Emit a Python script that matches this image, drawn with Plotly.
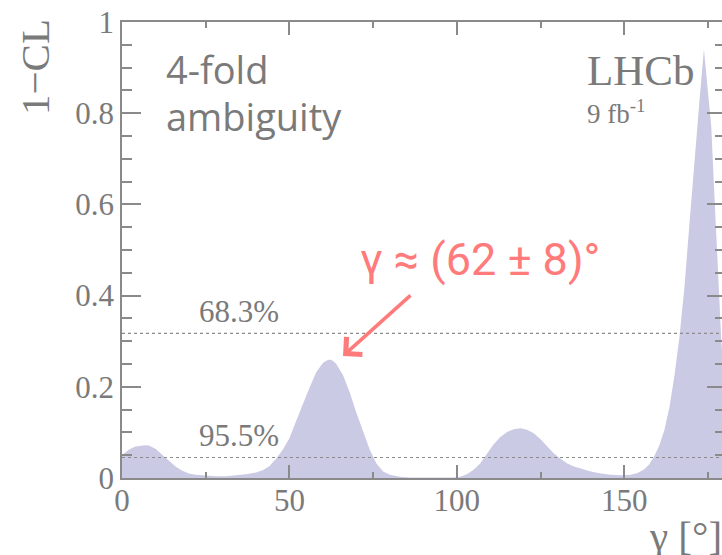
import plotly.graph_objects as go

# ---------------- data ----------------
gamma_deg = [0, 2, 4, 6, 7, 8, 10, 12, 14, 16, 18, 20, 22, 25, 28, 31, 34, 37, 40, 42,
             44, 46, 48, 50, 52, 54, 56, 58, 60, 61, 62, 63, 64, 66, 68, 70, 72, 74, 76, 78,
             80, 83, 86, 90, 95, 99, 101, 103, 105, 107, 109, 111, 113, 115, 117, 119, 121,
             123, 125, 127, 129, 131, 133, 135, 137, 140, 143, 146, 149, 152, 154, 156,
             157.5, 159, 160.5, 162, 163.5, 165, 166.5, 168, 169.5, 171, 172.5, 173.8,
             175, 176, 177, 178, 179, 180]
one_minus_cl = [0.050, 0.062, 0.069, 0.072, 0.072, 0.071, 0.064, 0.051, 0.037, 0.025,
                0.016, 0.010, 0.007, 0.005, 0.004, 0.004, 0.006, 0.008, 0.012, 0.017,
                0.026, 0.042, 0.062, 0.087, 0.125, 0.163, 0.198, 0.232, 0.252, 0.257,
                0.260, 0.257, 0.250, 0.226, 0.188, 0.143, 0.101, 0.062, 0.032, 0.014,
                0.007, 0.003, 0.001, 0.0005, 0.0005, 0.001, 0.003, 0.008, 0.018, 0.032,
                0.053, 0.074, 0.090, 0.101, 0.107, 0.109, 0.106, 0.098, 0.085, 0.069,
                0.054, 0.042, 0.032, 0.025, 0.020, 0.014, 0.010, 0.007, 0.006, 0.007,
                0.011, 0.019, 0.030, 0.048, 0.072, 0.105, 0.155, 0.225, 0.31, 0.42,
                0.56, 0.70, 0.83, 0.94, 0.85, 0.77, 0.61, 0.45, 0.30, 0.20]
cl_levels = [0.317, 0.045]
cl_labels = ["68.3%", "95.5%"]
cl_label_x = 35
x_major = [0, 50, 100, 150]
y_major = [0, 0.2, 0.4, 0.6, 0.8, 1]

# ---------------- style ----------------
W, H = 722, 555
L, R, T, B = 122, 0, 22, 77
PW, PH = W - L - R, H - T - B
FILL = "rgb(202,202,228)"
AX = "#8a8a8a"
TXT = "#7a7a7a"
RED = "#ff7b7b"
SERIF = "Liberation Serif, Times New Roman, serif"
SANS = "Open Sans, sans-serif"


def px(x):
    return (x - L) / PW


def py(y):
    return (H - B - y) / PH


fig = go.Figure()
fig.add_trace(go.Scatter(x=gamma_deg, y=one_minus_cl, mode="lines", fill="tozeroy",
                         fillcolor=FILL, line=dict(width=0, color=FILL),
                         hoverinfo="skip", showlegend=False))
for lvl in cl_levels:
    fig.add_trace(go.Scatter(x=[0, 180], y=[lvl, lvl], mode="lines",
                             line=dict(color="#8c8c8c", width=1.2, dash="dot"),
                             hoverinfo="skip", showlegend=False))
fig.add_trace(go.Scatter(x=[0], y=[0], yaxis="y2", mode="markers",
                         marker=dict(opacity=0), hoverinfo="skip", showlegend=False))

tickfont = dict(family=SERIF, size=31, color=TXT)
fig.update_layout(
    width=W, height=H, margin=dict(l=L, r=R, t=T, b=B),
    paper_bgcolor="white", plot_bgcolor="white", showlegend=False,
    xaxis=dict(range=[0, 179.2], tickvals=x_major, ticks="inside", ticklen=13,
               tickwidth=1.5, tickcolor=AX, showline=True, linecolor=AX, linewidth=1.5,
               mirror="ticks", showgrid=False, zeroline=False, tickfont=tickfont,
               ticklabelstandoff=-6,
               minor=dict(dtick=25, tick0=0, ticks="inside", ticklen=6, tickwidth=1.5,
                          tickcolor=AX, showgrid=False)),
    yaxis=dict(range=[0, 1], tickvals=y_major, ticks="inside", ticklen=19,
               tickwidth=1.5, tickcolor=AX, showline=True, linecolor=AX, linewidth=1.5,
               showgrid=False, zeroline=False, tickfont=tickfont,
               minor=dict(dtick=0.05, tick0=0, ticks="inside", ticklen=10, tickwidth=1.5,
                          tickcolor=AX, showgrid=False)),
    yaxis2=dict(range=[0, 1], overlaying="y", side="right", tickvals=y_major,
                ticks="inside", ticklen=15, tickwidth=1.5, tickcolor=AX,
                showline=False, showgrid=False, zeroline=False, showticklabels=False,
                minor=dict(dtick=0.05, tick0=0, ticks="inside", ticklen=7, tickwidth=1.5,
                           tickcolor=AX, showgrid=False)),
)

ann = []
# axis titles
ann.append(dict(text="1−CL", x=px(35), y=py(67), xref="paper", yref="paper",
                textangle=-90, showarrow=False, xanchor="center", yanchor="middle",
                font=dict(family=SERIF, size=41, color=TXT)))
ann.append(dict(text="γ [°]", x=px(647), y=py(536), xref="paper", yref="paper",
                showarrow=False, xanchor="left", yanchor="middle",
                font=dict(family=SERIF, size=41, color=TXT)))
# text labels
ann.append(dict(text="4-fold", x=px(164), y=py(69), xref="paper", yref="paper",
                showarrow=False, xanchor="left", yanchor="middle",
                font=dict(family=SANS, size=38, color=TXT)))
ann.append(dict(text="ambiguity", x=px(164), y=py(116), xref="paper", yref="paper",
                showarrow=False, xanchor="left", yanchor="middle",
                font=dict(family=SANS, size=38, color=TXT)))
ann.append(dict(text="LHCb", x=px(585), y=py(70), xref="paper", yref="paper",
                showarrow=False, xanchor="left", yanchor="middle",
                font=dict(family=SERIF, size=43, color=TXT)))
ann.append(dict(text="9 fb<sup>-1</sup>", x=px(585), y=py(112), xref="paper", yref="paper",
                showarrow=False, xanchor="left", yanchor="middle",
                font=dict(family=SERIF, size=27, color=TXT)))
for lvl, lab in zip(cl_levels, cl_labels):
    ann.append(dict(text=lab, x=cl_label_x, y=lvl, xref="x", yref="y",
                    showarrow=False, xanchor="center", yanchor="bottom", yshift=2,
                    font=dict(family=SERIF, size=31, color=TXT)))
ann.append(dict(text="γ ≈ (62 ± 8)°", x=px(480), y=py(259), xref="paper", yref="paper",
                showarrow=False, xanchor="center", yanchor="middle",
                font=dict(family="Roboto, sans-serif", size=45, color=RED)))
ann.append(dict(text="", x=px(343), y=py(356), xref="paper", yref="paper",
                showarrow=True, ax=69, ay=-62, axref="pixel", ayref="pixel",
                arrowhead=4, arrowsize=1.3, arrowwidth=3.5, arrowcolor=RED, standoff=0))
fig.update_layout(annotations=ann)

fig.write_html("out.html")
